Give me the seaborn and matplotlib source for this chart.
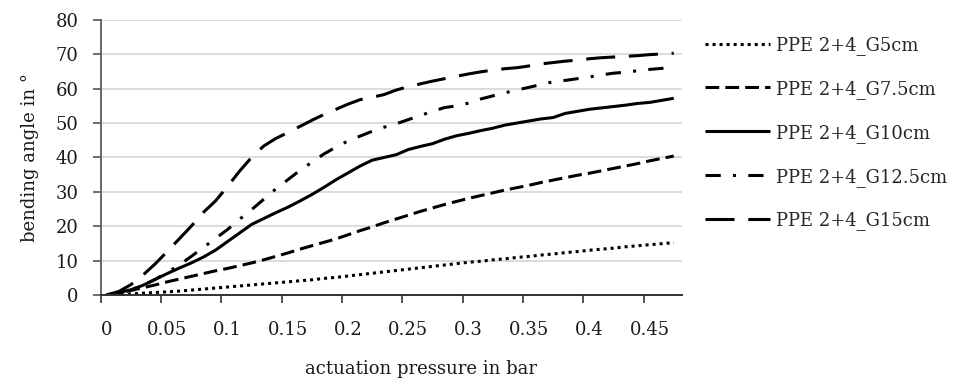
import numpy as np
import pandas as pd
import matplotlib
matplotlib.use("Agg")
import matplotlib.pyplot as plt
import seaborn as sns

# ---- data ----
pressure = [round(0.01 * i, 2) for i in range(48)]

g5 = [0, 0.1, 0.3, 0.5, 0.7, 0.9, 1.1, 1.4, 1.7, 2.0, 2.3, 2.6, 2.9, 3.2, 3.5, 3.8,
      4.1, 4.4, 4.8, 5.1, 5.5, 5.9, 6.3, 6.7, 7.1, 7.5, 7.9, 8.3, 8.7, 9.1, 9.5, 9.8,
      10.2, 10.5, 10.9, 11.2, 11.6, 11.9, 12.3, 12.6, 13.0, 13.3, 13.6, 14.0, 14.3,
      14.6, 14.9, 15.2]
g7_5 = [0, 0.6, 1.3, 2.1, 2.9, 3.8, 4.6, 5.4, 6.2, 7.0, 7.7, 8.5, 9.3, 10.2, 11.2,
        12.2, 13.3, 14.3, 15.3, 16.3, 17.5, 18.7, 19.8, 21.0, 22.1, 23.2, 24.3, 25.3,
        26.3, 27.2, 28.1, 28.9, 29.7, 30.5, 31.2, 31.9, 32.7, 33.4, 34.1, 34.8, 35.4,
        36.1, 36.8, 37.5, 38.2, 39.0, 39.7, 40.4]
g10 = [0, 0.7, 1.5, 2.8, 4.5, 6.2, 7.8, 9.3, 11.0, 13.0, 15.5, 18.0, 20.5, 22.2, 23.9,
       25.5, 27.3, 29.2, 31.3, 33.5, 35.5, 37.5, 39.2, 40.0, 40.8, 42.3, 43.2, 44.0,
       45.3, 46.3, 47.0, 47.8, 48.5, 49.4, 50.0, 50.6, 51.2, 51.6, 52.8, 53.4, 54.0,
       54.4, 54.8, 55.2, 55.7, 56.0, 56.6, 57.2]
g12_5 = [0, 0.5, 1.5, 2.8, 4.5, 6.5, 8.7, 11.2, 13.8, 16.4, 19.0, 22.0, 24.8, 27.8,
         30.8, 33.5, 36.2, 38.6, 41.0, 43.0, 44.8, 46.2, 47.6, 48.8, 49.8, 51.0, 52.2,
         53.4, 54.5, 55.0, 55.8, 57.0, 57.9, 58.8, 59.6, 60.4, 61.2, 62.0, 62.4, 62.9,
         63.4, 64.0, 64.5, 64.8, 65.2, 65.6, 65.9, 66.3]
g15 = [0, 1.0, 3.0, 5.8, 9.0, 12.6, 16.3, 20.0, 24.0, 27.3, 31.5, 36.0, 40.0, 43.3,
       45.5, 47.2, 49.0, 50.8, 52.5, 54.0, 55.5, 56.8, 57.5, 58.3, 59.6, 60.6, 61.4,
       62.2, 62.9, 63.6, 64.3, 64.9, 65.4, 65.8, 66.1, 66.6, 67.2, 67.6, 68.0, 68.3,
       68.7, 69.0, 69.2, 69.4, 69.6, 69.9, 70.1, 70.3]

series_names = ["PPE 2+4_G5cm", "PPE 2+4_G7.5cm", "PPE 2+4_G10cm",
                "PPE 2+4_G12.5cm", "PPE 2+4_G15cm"]
series_values = [g5, g7_5, g10, g12_5, g15]
x_tick_labels = ["0", "0.05", "0.1", "0.15", "0.2", "0.25", "0.3", "0.35", "0.4", "0.45"]
y_ticks = [0, 10, 20, 30, 40, 50, 60, 70, 80]

# ---- style ----
sns.set_theme(style="white")
plt.rcParams["font.family"] = ["DejaVu Serif"]
plt.rcParams["lines.solid_capstyle"] = "butt"
plt.rcParams["lines.dash_capstyle"] = "butt"

FS = 13
dash_styles = [(0, (1, 1.3)), (0, (4.5, 2)), "-", (0, (5, 4, 1, 4)), (0, (9.5, 4.5))]

df = pd.DataFrame({
    "pressure": np.tile(pressure, len(series_names)),
    "angle": np.concatenate([np.array(v, dtype=float) for v in series_values]),
    "series": np.repeat(series_names, len(pressure)),
})

fig = plt.figure(figsize=(9.6, 3.83), dpi=100)
ax = fig.add_axes([0.105, 0.230, 0.605, 0.718])

for name, ls in zip(series_names, dash_styles):
    sub = df[df["series"] == name]
    sns.lineplot(data=sub, x="pressure", y="angle", ax=ax, color="black",
                 linestyle=ls, linewidth=2.2, label=name)

ax.set_xlim(-0.005, 0.4765)
ax.set_ylim(0, 80)
ax.set_yticks(y_ticks)
ax.set_xticks([0.05 * i for i in range(len(x_tick_labels))])
ax.set_xticklabels(x_tick_labels)
ax.set_xticks([-0.005 + 0.05 * i for i in range(10)], minor=True)
ax.tick_params(axis="x", which="major", length=0, pad=19, labelsize=FS, colors="#1a1a1a")
ax.tick_params(axis="x", which="minor", length=6, width=1.2, direction="out",
               color="#333333", bottom=True)
ax.tick_params(axis="y", which="major", length=6, width=1.2, direction="out",
               color="#555555", left=True, labelsize=FS, colors="#1a1a1a", pad=10)
for t in ax.yaxis.get_ticklines():
    t.set_color("#555555")

ax.grid(axis="y", color="#d9d9d9", linewidth=1.3)
ax.grid(axis="x", visible=False)
ax.set_axisbelow(True)
for s in ["top", "right"]:
    ax.spines[s].set_visible(False)
ax.spines["left"].set_color("#666666")
ax.spines["left"].set_linewidth(1.4)
ax.spines["bottom"].set_color("#333333")
ax.spines["bottom"].set_linewidth(1.4)

ax.set_xlabel("actuation pressure in bar", fontsize=FS, labelpad=14, color="#1a1a1a")
ax.xaxis.set_label_coords(0.551, -0.238)
ax.set_ylabel("bending angle in °", fontsize=FS, labelpad=12, color="#1a1a1a")

ax.legend(loc="upper left", bbox_to_anchor=(0.727, 0.925), bbox_transform=fig.transFigure,
          frameon=False, fontsize=FS, handlelength=3.6, handletextpad=0.3,
          labelspacing=1.38, borderaxespad=0)

fig.savefig("out.png", dpi=100)
